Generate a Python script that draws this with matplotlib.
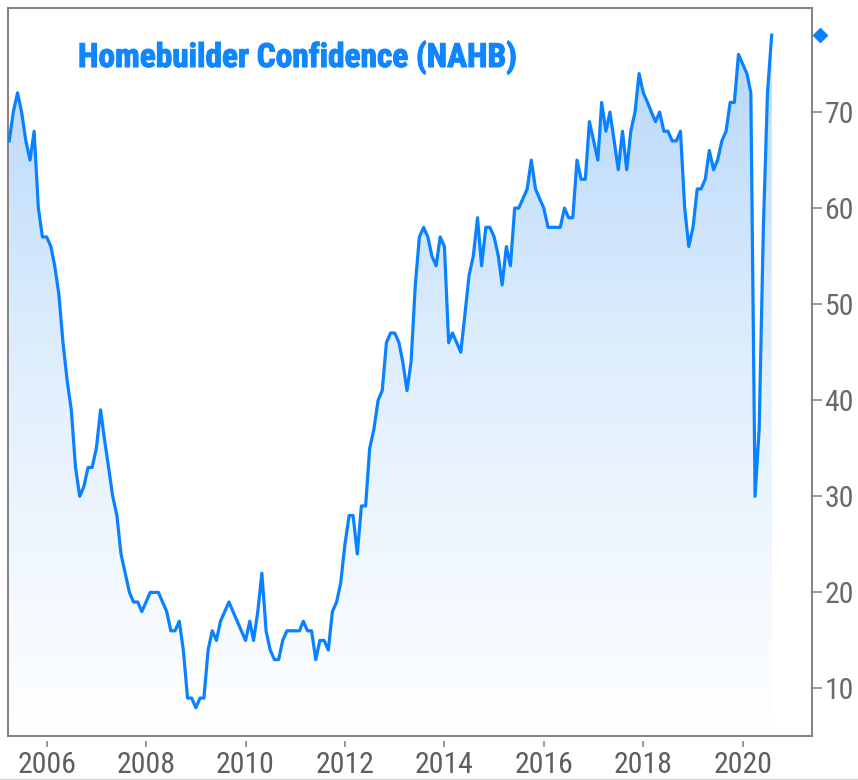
import matplotlib
matplotlib.use("Agg")
import matplotlib.pyplot as plt
import matplotlib.dates as mdates
from matplotlib import font_manager as fm
from matplotlib.colors import LinearSegmentedColormap
from matplotlib.lines import Line2D
import matplotlib.patheffects as pe
import matplotlib.transforms as mtransforms
import numpy as np
import pandas as pd

# ---------------- data (monthly NAHB index, Apr 2005 - Aug 2020) ----------------
start_month = "2005-04"
v2005 = [67, 70, 72, 70, 67, 65, 68, 60, 57]
v2006 = [57, 56, 54, 51, 46, 42, 39, 33, 30, 31, 33, 33]
v2007 = [35, 39, 36, 33, 30, 28, 24, 22, 20, 19, 19, 18]
v2008 = [19, 20, 20, 20, 19, 18, 16, 16, 17, 14, 9, 9]
v2009 = [8, 9, 9, 14, 16, 15, 17, 18, 19, 18, 17, 16]
v2010 = [15, 17, 15, 18, 22, 16, 14, 13, 13, 15, 16, 16]
v2011 = [16, 16, 17, 16, 16, 13, 15, 15, 14, 18, 19, 21]
v2012 = [25, 28, 28, 24, 29, 29, 35, 37, 40, 41, 46, 47]
v2013 = [47, 46, 44, 41, 44, 52, 57, 58, 57, 55, 54, 57]
v2014 = [56, 46, 47, 46, 45, 49, 53, 55, 59, 54, 58, 58]
v2015 = [57, 55, 52, 56, 54, 60, 60, 61, 62, 65, 62, 61]
v2016 = [60, 58, 58, 58, 58, 60, 59, 59, 65, 63, 63, 69]
v2017 = [67, 65, 71, 68, 70, 67, 64, 68, 64, 68, 70, 74]
v2018 = [72, 71, 70, 69, 70, 68, 68, 67, 67, 68, 60, 56]
v2019 = [58, 62, 62, 63, 66, 64, 65, 67, 68, 71, 71, 76]
v2020 = [75, 74, 72, 30, 37, 58, 72, 78]

values = (v2005 + v2006 + v2007 + v2008 + v2009 + v2010 + v2011 + v2012 +
          v2013 + v2014 + v2015 + v2016 + v2017 + v2018 + v2019 + v2020)
dates = pd.date_range(start_month, periods=len(values), freq="MS")

title_text = "Homebuilder Confidence (NAHB)"
x_tick_years = [2006, 2008, 2010, 2012, 2014, 2016, 2018, 2020]
y_ticks = [10, 20, 30, 40, 50, 60, 70]

# ---------------- fonts ----------------
available = {f.name for f in fm.fontManager.ttflist}
narrow_candidates = ["Liberation Sans Narrow", "Roboto Condensed",
                     "DejaVu Sans Condensed", "Open Sans Condensed", "Liberation Sans"]
narrow = next((f for f in narrow_candidates if f in available), "DejaVu Sans")
plt.rcParams["font.family"] = [narrow, "DejaVu Sans"]

# ---------------- figure ----------------
W, H = 858, 780
fig = plt.figure(figsize=(W / 100, H / 100), dpi=100)
fig.patch.set_facecolor("white")

left_px, right_px, top_px, bottom_px = 8, 811.7, 8, 736
ax = fig.add_axes([left_px / W, 1 - bottom_px / H,
                   (right_px - left_px) / W, (bottom_px - top_px) / H])

ymin, ymax = 5.05, 80.83
xmin = pd.Timestamp("2005-03-23")
xmax = pd.Timestamp("2021-05-22")

line_color = "#0a82ff"
gray = "#808080"

# gradient fill under the line
poly = ax.fill_between(dates, values, ymin, facecolor="none", edgecolor="none")
cmap = LinearSegmentedColormap.from_list("g", ["#ffffff", "#e1effd", "#b4d6fa"])
grad = np.linspace(0, 1, 256).reshape(-1, 1)
x0n, x1n = mdates.date2num(xmin), mdates.date2num(xmax)
im = ax.imshow(grad, cmap=cmap, aspect="auto", origin="lower",
               extent=[x0n, x1n, ymin, 80.0], zorder=1, interpolation="bilinear")
im.set_clip_path(poly.get_paths()[0], transform=ax.transData)
ax.set_xlim(xmin, xmax)
ax.set_ylim(ymin, ymax)

ax.plot(dates, values, color=line_color, lw=2.3, zorder=3)

# last-value diamond marker beside right axis
trans = mtransforms.blended_transform_factory(ax.transAxes, ax.transData)
trans = trans + mtransforms.ScaledTranslation(5.8 / 72, 0, fig.dpi_scale_trans)
ax.plot([1.0], [values[-1]], marker="D", ms=7, color=line_color,
        transform=trans, clip_on=False, zorder=4)

# axes styling
ax.yaxis.tick_right()
ax.set_yticks(y_ticks)
ax.set_yticklabels([str(t) for t in y_ticks])
ax.tick_params(axis="y", direction="out", length=7.2, width=1.1, color=gray,
               pad=2.0, labelsize=21.5, labelcolor="#6a6a6a")

xlab_color = "#5e5e5e"
ax.set_xticks([pd.Timestamp(f"{y}-01-01") for y in x_tick_years])
ax.set_xticklabels([str(y) for y in x_tick_years])
ax.tick_params(axis="x", direction="out", length=4, width=1.1, color=gray,
               pad=3.0, labelsize=21.5, labelcolor=xlab_color)
for lab in ax.get_xticklabels():
    lab.set_fontweight("bold")
    lab.set_path_effects([pe.withStroke(linewidth=1.3, foreground=xlab_color)])

for s in ["top", "left", "right"]:
    ax.spines[s].set_color(gray)
    ax.spines[s].set_linewidth(1.4)
ax.spines["bottom"].set_position(("outward", 3.5))
ax.spines["bottom"].set_visible(False)
# bottom frame line (ticks sit slightly below it)
ax.plot([0, 1], [0, 0], transform=ax.transAxes, color=gray, lw=1.4,
        clip_on=False, zorder=5)

# title
title_color = "#0f86ff"
fig.text(78 / W, 1 - 67 / H, title_text, color=title_color, fontsize=24,
         fontweight="bold", ha="left", va="baseline",
         path_effects=[pe.withStroke(linewidth=0.8, foreground=title_color)])

# light border line at the bottom of the image
fig.add_artist(Line2D([0, 1], [1 - 778.5 / H, 1 - 778.5 / H],
                      transform=fig.transFigure, color="#d4d4d4", lw=1.0))

fig.savefig("out.png", dpi=100, facecolor="white")
